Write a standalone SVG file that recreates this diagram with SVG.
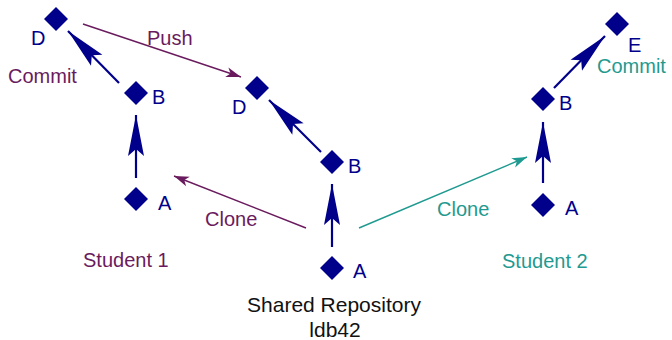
<svg xmlns="http://www.w3.org/2000/svg" width="672" height="340" viewBox="0 0 672 340">
<style>
text{font-family:"Liberation Sans",Arial,sans-serif;font-size:20px}
.n{fill:#00008b}
.p{fill:#6a1b5e}
.t{fill:#1f9a90}
.k{fill:#111}
.dm{fill:#00008b}
.bl{stroke:#00008b;stroke-width:2.2;fill:none;marker-end:url(#big)}
.pl{stroke:#6a1b5e;stroke-width:1.4;fill:none;marker-end:url(#sp)}
.tl{stroke:#1f9a90;stroke-width:1.4;fill:none;marker-end:url(#st)}
</style>
<defs>
<path id="dia" d="M0,-12L12,0L0,12L-12,0Z"/>
<marker id="big" markerUnits="userSpaceOnUse" markerWidth="50" markerHeight="20" viewBox="-46 -10 50 20" refX="0" refY="0" orient="auto" overflow="visible">
<path d="M0,0L-41,-8L-34,0L-41,8Z" fill="#00008b"/>
</marker>
<marker id="sp" markerUnits="userSpaceOnUse" markerWidth="20" markerHeight="12" viewBox="-17 -6 20 12" refX="0" refY="0" orient="auto" overflow="visible">
<path d="M0,0L-15,-5L-11,0L-15,5Z" fill="#6a1b5e"/>
</marker>
<marker id="st" markerUnits="userSpaceOnUse" markerWidth="20" markerHeight="12" viewBox="-17 -6 20 12" refX="0" refY="0" orient="auto" overflow="visible">
<path d="M0,0L-15,-5L-11,0L-15,5Z" fill="#1f9a90"/>
</marker>
</defs>
<g id="connectors">
<line class="bl" x1="136" y1="178" x2="136" y2="115"/>
<line class="bl" x1="119" y1="83" x2="68" y2="31"/>
<line class="bl" x1="332" y1="247" x2="332" y2="184"/>
<line class="bl" x1="321" y1="152" x2="269" y2="100"/>
<line class="bl" x1="543" y1="183" x2="543" y2="122"/>
<line class="bl" x1="554" y1="88" x2="605" y2="36"/>
<line class="pl" x1="83" y1="24" x2="241" y2="77"/>
<line class="pl" x1="306" y1="228" x2="174" y2="176"/>
<line class="tl" x1="359" y1="228" x2="527" y2="157"/>
<text class="p" x="147" y="45">Push</text>
<text class="p" x="205" y="226">Clone</text>
<text class="t" x="437" y="216">Clone</text>
<text class="p" x="8" y="83">Commit</text>
<text class="t" x="597" y="73">Commit</text>
</g>
<g id="s1-D"><use href="#dia" class="dm" x="56" y="19"/><text class="n" x="31" y="45">D</text></g>
<g id="s1-B"><use href="#dia" class="dm" x="136" y="93"/><text class="n" x="152" y="104">B</text></g>
<g id="s1-A"><use href="#dia" class="dm" x="136" y="199"/><text class="n" x="158" y="210">A</text></g>
<g id="repo-D"><use href="#dia" class="dm" x="257" y="88"/><text class="n" x="232" y="114">D</text></g>
<g id="repo-B"><use href="#dia" class="dm" x="332" y="162"/><text class="n" x="348" y="173">B</text></g>
<g id="repo-A"><use href="#dia" class="dm" x="332" y="268"/><text class="n" x="353" y="278">A</text></g>
<g id="s2-E"><use href="#dia" class="dm" x="617" y="24"/><text class="n" x="628" y="52">E</text></g>
<g id="s2-B"><use href="#dia" class="dm" x="543" y="99"/><text class="n" x="559" y="110">B</text></g>
<g id="s2-A"><use href="#dia" class="dm" x="543" y="205"/><text class="n" x="565" y="215">A</text></g>
<g id="label-student1"><text class="p" x="83" y="267">Student 1</text></g>
<g id="label-student2"><text class="t" x="502" y="268">Student 2</text></g>
<g id="label-repo"><text class="k" x="334" y="312" text-anchor="middle" style="font-size:21px">Shared Repository</text><text class="k" x="335" y="337" text-anchor="middle" style="font-size:21px">ldb42</text></g>
</svg>
